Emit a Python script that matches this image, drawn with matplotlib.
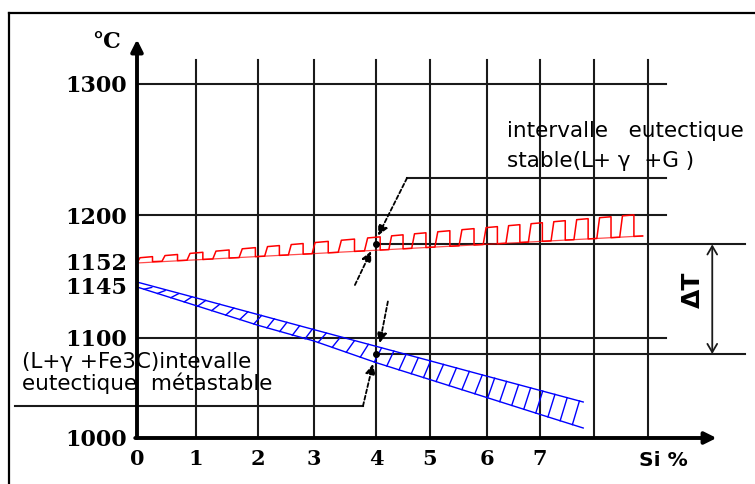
import numpy as np
import matplotlib
matplotlib.use('Agg')
import matplotlib.pyplot as plt
from matplotlib.lines import Line2D

# ---------------- data ----------------
si_ticks = [0, 1, 2, 3, 4, 5, 6, 7]
si_tick_labels = ['0', '1', '2', '3', '4', '5', '6', '7']
temp_ticks = [1000, 1100, 1145, 1152, 1200, 1300]
temp_tick_labels = ['1000', '1100', '1145', '1152', '1200', '1300']
grid_si = [1, 2, 3, 4, 5, 6, 7, 8, 9]
grid_temp = [1100, 1200, 1300]

# stable eutectic interval (L + γ + G), red
red_si = [0, 1, 2, 3, 4, 5, 6, 7, 8, 8.9]
red_low = [1151.7, 1154.2, 1157.6, 1160.6, 1164.0, 1167.0, 1170.1, 1173.0, 1175.9, 1178.6]
red_up = [1156.1, 1161.3, 1166.9, 1171.8, 1177.3, 1182.2, 1187.2, 1191.9, 1196.8, 1200.8]

# metastable eutectic interval (L + γ + Fe3C), blue
blue_si = [0, 1, 2, 3, 4, 5, 6, 7, 7.8]
blue_up = [1145.9, 1134.1, 1119.9, 1107.1, 1091.7, 1077.2, 1061.8, 1047.6, 1036.0]
blue_low = [1143.3, 1127.5, 1110.8, 1097.0, 1075.4, 1058.4, 1040.4, 1023.6, 1010.0]

# ΔT levels read at 4 % Si
dt_si = 4
dt_top = 1170
dt_bot = 1084

# ---------------- schematic (non-uniform) scales ----------------
x_knot_v = [0, 1, 2, 3, 4, 5, 6, 7, 8, 9]
x_knot_p = [137, 196, 258, 314, 376, 430, 487, 540, 594, 648]
y_knot_v = [1000, 1100, 1145, 1152, 1200, 1300]
y_knot_p = [484 - p for p in [438, 338, 285, 262, 215, 84]]


def make_pw(kv, kp):
    kv = np.asarray(kv, float)
    kp = np.asarray(kp, float)
    s0 = (kp[1] - kp[0]) / (kv[1] - kv[0])
    s1 = (kp[-1] - kp[-2]) / (kv[-1] - kv[-2])

    def fwd(v):
        v = np.asarray(v, float)
        out = np.interp(v, kv, kp)
        out = np.where(v < kv[0], kp[0] + (v - kv[0]) * s0, out)
        out = np.where(v > kv[-1], kp[-1] + (v - kv[-1]) * s1, out)
        return out

    def inv(p):
        p = np.asarray(p, float)
        out = np.interp(p, kp, kv)
        out = np.where(p < kp[0], kv[0] + (p - kp[0]) / s0, out)
        out = np.where(p > kp[-1], kv[-1] + (p - kp[-1]) / s1, out)
        return out
    return fwd, inv


W, H = 755, 484
fig = plt.figure(figsize=(W / 100, H / 100), dpi=100)
fig.patch.set_facecolor('white')
ax = fig.add_axes([137 / W, (H - 438) / H, (648 - 137) / W, (438 - 84) / H])
ax.set_xscale('function', functions=make_pw(x_knot_v, x_knot_p))
ax.set_yscale('function', functions=make_pw(y_knot_v, y_knot_p))
ax.set_xlim(0, 9)
ax.set_ylim(1000, 1300)
for s in ax.spines.values():
    s.set_visible(False)
ax.patch.set_alpha(0)


def P(x, y):
    return (x / W, 1 - y / H)


# border of the picture
fig.add_artist(Line2D([P(9, 0)[0], P(9, 0)[0]], [P(0, 13)[1], 0], color='black', lw=1.6, transform=fig.transFigure))
fig.add_artist(Line2D([P(9, 0)[0], 1], [P(0, 13)[1], P(0, 13)[1]], color='black', lw=1.6, transform=fig.transFigure))

# ticks
ax.set_xticks(si_ticks)
ax.set_xticklabels(si_tick_labels)
ax.set_yticks(temp_ticks)
ax.set_yticklabels(temp_tick_labels)
ax.tick_params(axis='both', length=0)
ax.tick_params(axis='y', pad=7)
ax.tick_params(axis='x', pad=8)
ax.minorticks_off()
for lab in ax.get_yticklabels():
    lab.set_fontfamily('DejaVu Serif')
    lab.set_fontweight('bold')
    lab.set_fontsize(16)
for lab in ax.get_xticklabels():
    lab.set_fontfamily('DejaVu Serif')
    lab.set_fontweight('bold')
    lab.set_fontsize(15)

gc = '#1a1a1a'
# grid
for g in grid_si:
    ax.plot([g, g], [1000, 1318], color=gc, lw=1.5, clip_on=False, zorder=1)
for g in grid_temp:
    ax.plot([0, 9.33], [g, g], color=gc, lw=1.5, clip_on=False, zorder=1)

# axes with arrows
ax.annotate('', xy=(0, 1334), xytext=(0, 1000), xycoords='data', textcoords='data',
            arrowprops=dict(arrowstyle='-|>,head_length=0.7,head_width=0.35', lw=2.8, color='black',
                            shrinkA=0, shrinkB=0), annotation_clip=False, zorder=5)
ax.annotate('', xy=(10.27, 1000), xytext=(-0.03, 1000), xycoords='data', textcoords='data',
            arrowprops=dict(arrowstyle='-|>,head_length=0.7,head_width=0.35', lw=2.8, color='black',
                            shrinkA=0, shrinkB=0), annotation_clip=False, zorder=5)

# red band: square wave hatching between lower and upper edge
n_red = 21
per = red_si[-1] / n_red
rx, ry = [], []
for k in range(n_red):
    s0 = k * per
    pts = [s0, s0 + 0.12 * per, s0 + 0.62 * per, s0 + 0.62 * per]
    rx += pts
    ry += [np.interp(pts[0], red_si, red_low), np.interp(pts[1], red_si, red_up),
           np.interp(pts[2], red_si, red_up), np.interp(pts[3], red_si, red_low)]
rx.append(red_si[-1])
ry.append(red_low[-1])
ax.plot(rx, ry, color='#ff0000', lw=1.1, clip_on=False, zorder=3)
ax.plot(red_si, red_low, color='#ff0000', lw=0.9, clip_on=False, zorder=3, alpha=0.7)

# blue band: two edges with diagonal hatches
ax.plot(blue_si, blue_up, color='#0000ff', lw=1.0, clip_on=False, zorder=3)
ax.plot(blue_si, blue_low, color='#0000ff', lw=1.0, clip_on=False, zorder=3)
n_blue = 34
for s in np.linspace(0.12, blue_si[-1] - 0.2, n_blue):
    ax.plot([s, s + 0.13], [np.interp(s, blue_si, blue_low), np.interp(s + 0.13, blue_si, blue_up)],
            color='#0000ff', lw=1.0, clip_on=False, zorder=3)

# ΔT construction
ax.plot([dt_si, 10.8], [dt_top, dt_top], color=gc, lw=1.5, clip_on=False, zorder=2)
ax.plot([dt_si, 10.8], [dt_bot, dt_bot], color=gc, lw=1.5, clip_on=False, zorder=2)
ax.plot([dt_si, dt_si], [dt_top, dt_bot], ls='none', marker='o', ms=4, color='black', clip_on=False, zorder=4)
ax.annotate('', xy=(10.19, dt_top), xytext=(10.19, dt_bot), xycoords='data', textcoords='data',
            arrowprops=dict(arrowstyle='<->,head_length=0.6,head_width=0.35', lw=1.3, color=gc,
                            shrinkA=0, shrinkB=0), annotation_clip=False)
fig.text(*P(693, 290), 'ΔT', rotation=90, ha='center', va='center', fontsize=18,
         fontweight='bold', family='DejaVu Sans')

# leaders


def leader(tail, tip):
    ax.annotate('', xy=tip, xytext=tail, xycoords='data', textcoords='data',
                arrowprops=dict(arrowstyle='-|>,head_length=0.6,head_width=0.3', lw=1.3,
                                ls=(0, (2.2, 1.4)), color='black', shrinkA=0, shrinkB=0),
                annotation_clip=False, zorder=4)


ax.plot([4.574, 9.33], [1228.2, 1228.2], color=gc, lw=1.5, clip_on=False, zorder=2)
leader((4.574, 1228.2), (4.04, 1179))
leader((3.66, 1145), (3.92, 1163))
ax.plot([-2.07, 3.79], [1032, 1032], color=gc, lw=1.5, clip_on=False, zorder=2)
leader((3.79, 1032), (3.95, 1074))
leader((4.22, 1131), (4.07, 1095))

# texts
fs = 15.5
fig.text(*P(507, 137), 'intervalle   eutectique', ha='left', va='baseline', fontsize=fs, family='DejaVu Sans')
fig.text(*P(507, 167), 'stable(L+ γ  +G )', ha='left', va='baseline', fontsize=fs, family='DejaVu Sans')
fig.text(*P(22, 368), '(L+γ +Fe3C)intevalle', ha='left', va='baseline', fontsize=fs, family='DejaVu Sans')
fig.text(*P(22, 390), 'eutectique  métastable', ha='left', va='baseline', fontsize=fs, family='DejaVu Sans')
fig.text(*P(107, 42), '°C', ha='center', va='center', fontsize=16, family='DejaVu Serif', fontweight='bold')
fig.text(*P(663, 460), 'Si %', ha='center', va='center', fontsize=14.5, family='DejaVu Sans', fontweight='bold')

fig.savefig('out.png', dpi=100, facecolor='white')
